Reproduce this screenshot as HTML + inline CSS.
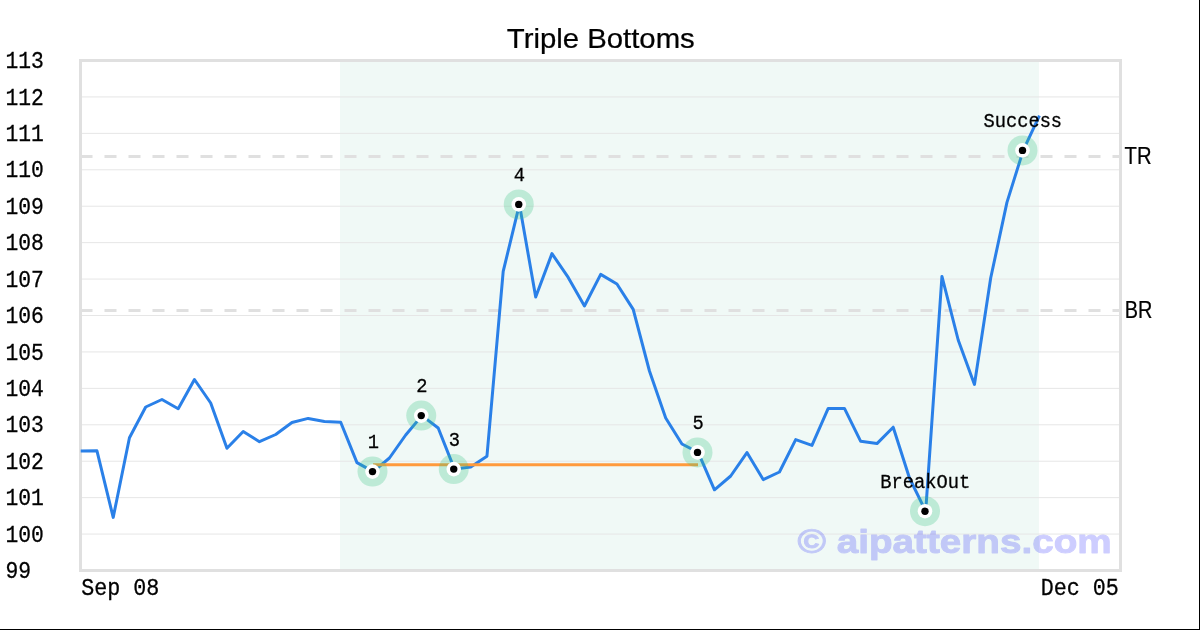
<!DOCTYPE html>
<html><head><meta charset="utf-8"><title>Triple Bottoms</title>
<style>
html,body{margin:0;padding:0;background:#fff;}
body{width:1200px;height:630px;overflow:hidden;position:relative;}
svg{position:absolute;left:0;top:0;display:block;}
text{white-space:pre;}
</style></head>
<body>
<svg width="1200" height="630" viewBox="0 0 1200 630">
<rect x="0" y="0" width="1200" height="630" fill="#ffffff"/>
<rect x="340" y="60.5" width="698.9" height="510.0" fill="#f0f9f6"/>
<g stroke="#e6e6e6" stroke-width="1" fill="none">
<line x1="80.5" y1="534.07" x2="1120.5" y2="534.07"/>
<line x1="80.5" y1="497.64" x2="1120.5" y2="497.64"/>
<line x1="80.5" y1="461.21" x2="1120.5" y2="461.21"/>
<line x1="80.5" y1="424.79" x2="1120.5" y2="424.79"/>
<line x1="80.5" y1="388.36" x2="1120.5" y2="388.36"/>
<line x1="80.5" y1="351.93" x2="1120.5" y2="351.93"/>
<line x1="80.5" y1="315.50" x2="1120.5" y2="315.50"/>
<line x1="80.5" y1="279.07" x2="1120.5" y2="279.07"/>
<line x1="80.5" y1="242.64" x2="1120.5" y2="242.64"/>
<line x1="80.5" y1="206.21" x2="1120.5" y2="206.21"/>
<line x1="80.5" y1="169.79" x2="1120.5" y2="169.79"/>
<line x1="80.5" y1="133.36" x2="1120.5" y2="133.36"/>
<line x1="80.5" y1="96.93" x2="1120.5" y2="96.93"/>
</g>
<g stroke="#e0e0e0" stroke-width="3" stroke-dasharray="12 12" fill="none">
<line x1="80.5" y1="156.5" x2="1120.5" y2="156.5"/>
<line x1="80.5" y1="310.5" x2="1120.5" y2="310.5"/>
</g>
<rect x="80.5" y="60.5" width="1040.0" height="510.0" fill="none" stroke="#e0e0e0" stroke-width="3"/>
<polyline points="80.70,451.00 96.95,450.80 113.20,517.40 129.45,437.80 145.70,407.00 161.95,399.50 178.20,408.80 194.45,379.50 210.70,403.00 226.95,448.30 243.20,431.50 259.45,441.70 275.70,434.50 291.95,422.50 308.20,418.40 324.45,421.40 340.70,422.30 356.95,462.60 373.20,471.60 389.45,458.00 405.70,435.00 421.95,415.60 438.20,428.00 454.45,469.10 470.70,467.00 486.95,456.20 503.20,271.40 519.45,204.40 535.70,297.00 551.95,253.60 568.20,277.40 584.45,306.00 600.70,274.40 616.95,284.00 633.20,309.40 649.45,371.00 665.70,418.00 681.95,444.00 698.20,452.40 714.45,489.80 730.70,476.00 746.95,452.60 763.20,479.60 779.45,472.00 795.70,439.60 811.95,445.40 828.20,408.40 844.45,408.40 860.70,441.30 876.95,443.60 893.20,427.20 909.45,478.00 925.70,511.20 941.95,276.40 958.20,340.00 974.45,384.40 990.70,278.00 1006.95,202.40 1023.20,150.40 1039.45,115.60" fill="none" stroke="#2a80e8" stroke-width="3" stroke-linejoin="round" stroke-linecap="butt"/>
<line x1="373.00" y1="464.7" x2="698.00" y2="464.7" stroke="#ff9a3c" stroke-width="3"/>
<circle cx="372.50" cy="471.60" r="15" fill="rgb(52,196,130)" fill-opacity="0.27"/>
<circle cx="372.50" cy="471.60" r="7.3" fill="#ffffff"/>
<circle cx="372.50" cy="471.60" r="3.7" fill="#000000"/>
<circle cx="421.25" cy="415.60" r="15" fill="rgb(52,196,130)" fill-opacity="0.27"/>
<circle cx="421.25" cy="415.60" r="7.3" fill="#ffffff"/>
<circle cx="421.25" cy="415.60" r="3.7" fill="#000000"/>
<circle cx="453.75" cy="469.10" r="15" fill="rgb(52,196,130)" fill-opacity="0.27"/>
<circle cx="453.75" cy="469.10" r="7.3" fill="#ffffff"/>
<circle cx="453.75" cy="469.10" r="3.7" fill="#000000"/>
<circle cx="518.75" cy="204.40" r="15" fill="rgb(52,196,130)" fill-opacity="0.27"/>
<circle cx="518.75" cy="204.40" r="7.3" fill="#ffffff"/>
<circle cx="518.75" cy="204.40" r="3.7" fill="#000000"/>
<circle cx="697.50" cy="452.40" r="15" fill="rgb(52,196,130)" fill-opacity="0.27"/>
<circle cx="697.50" cy="452.40" r="7.3" fill="#ffffff"/>
<circle cx="697.50" cy="452.40" r="3.7" fill="#000000"/>
<circle cx="925.00" cy="511.20" r="15" fill="rgb(52,196,130)" fill-opacity="0.27"/>
<circle cx="925.00" cy="511.20" r="7.3" fill="#ffffff"/>
<circle cx="925.00" cy="511.20" r="3.7" fill="#000000"/>
<circle cx="1022.50" cy="150.40" r="15" fill="rgb(52,196,130)" fill-opacity="0.27"/>
<circle cx="1022.50" cy="150.40" r="7.3" fill="#ffffff"/>
<circle cx="1022.50" cy="150.40" r="3.7" fill="#000000"/>
<g opacity="0.999">
<text id="title" transform="translate(506.80,48.25) scale(1.0670,1)" x="0" y="0" font-family="'Liberation Sans', sans-serif" font-size="27.5" font-weight="normal" fill="#000" stroke="#000" stroke-width="0.25">Triple Bottoms</text>
<text id="y99" transform="translate(5.40,578.20) scale(0.8900,1)" x="0" y="0" font-family="'Liberation Mono', monospace" font-size="24.0" font-weight="normal" fill="#000" stroke="#000" stroke-width="0.3">99</text>
<text id="y100" transform="translate(5.40,541.77) scale(0.8900,1)" x="0" y="0" font-family="'Liberation Mono', monospace" font-size="24.0" font-weight="normal" fill="#000" stroke="#000" stroke-width="0.3">100</text>
<text id="y101" transform="translate(5.40,505.34) scale(0.8900,1)" x="0" y="0" font-family="'Liberation Mono', monospace" font-size="24.0" font-weight="normal" fill="#000" stroke="#000" stroke-width="0.3">101</text>
<text id="y102" transform="translate(5.40,468.91) scale(0.8900,1)" x="0" y="0" font-family="'Liberation Mono', monospace" font-size="24.0" font-weight="normal" fill="#000" stroke="#000" stroke-width="0.3">102</text>
<text id="y103" transform="translate(5.40,432.49) scale(0.8900,1)" x="0" y="0" font-family="'Liberation Mono', monospace" font-size="24.0" font-weight="normal" fill="#000" stroke="#000" stroke-width="0.3">103</text>
<text id="y104" transform="translate(5.40,396.06) scale(0.8900,1)" x="0" y="0" font-family="'Liberation Mono', monospace" font-size="24.0" font-weight="normal" fill="#000" stroke="#000" stroke-width="0.3">104</text>
<text id="y105" transform="translate(5.40,359.63) scale(0.8900,1)" x="0" y="0" font-family="'Liberation Mono', monospace" font-size="24.0" font-weight="normal" fill="#000" stroke="#000" stroke-width="0.3">105</text>
<text id="y106" transform="translate(5.40,323.20) scale(0.8900,1)" x="0" y="0" font-family="'Liberation Mono', monospace" font-size="24.0" font-weight="normal" fill="#000" stroke="#000" stroke-width="0.3">106</text>
<text id="y107" transform="translate(5.40,286.77) scale(0.8900,1)" x="0" y="0" font-family="'Liberation Mono', monospace" font-size="24.0" font-weight="normal" fill="#000" stroke="#000" stroke-width="0.3">107</text>
<text id="y108" transform="translate(5.40,250.34) scale(0.8900,1)" x="0" y="0" font-family="'Liberation Mono', monospace" font-size="24.0" font-weight="normal" fill="#000" stroke="#000" stroke-width="0.3">108</text>
<text id="y109" transform="translate(5.40,213.91) scale(0.8900,1)" x="0" y="0" font-family="'Liberation Mono', monospace" font-size="24.0" font-weight="normal" fill="#000" stroke="#000" stroke-width="0.3">109</text>
<text id="y110" transform="translate(5.40,177.49) scale(0.8900,1)" x="0" y="0" font-family="'Liberation Mono', monospace" font-size="24.0" font-weight="normal" fill="#000" stroke="#000" stroke-width="0.3">110</text>
<text id="y111" transform="translate(5.40,141.06) scale(0.8900,1)" x="0" y="0" font-family="'Liberation Mono', monospace" font-size="24.0" font-weight="normal" fill="#000" stroke="#000" stroke-width="0.3">111</text>
<text id="y112" transform="translate(5.40,104.63) scale(0.8900,1)" x="0" y="0" font-family="'Liberation Mono', monospace" font-size="24.0" font-weight="normal" fill="#000" stroke="#000" stroke-width="0.3">112</text>
<text id="y113" transform="translate(5.40,68.20) scale(0.8900,1)" x="0" y="0" font-family="'Liberation Mono', monospace" font-size="24.0" font-weight="normal" fill="#000" stroke="#000" stroke-width="0.3">113</text>
<text id="x0" transform="translate(81.20,595.00) scale(0.9050,1)" x="0" y="0" font-family="'Liberation Mono', monospace" font-size="24.0" font-weight="normal" fill="#000" stroke="#000" stroke-width="0.3">Sep 08</text>
<text id="x1" transform="translate(1040.70,594.90) scale(0.9050,1)" x="0" y="0" font-family="'Liberation Mono', monospace" font-size="24.0" font-weight="normal" fill="#000" stroke="#000" stroke-width="0.3">Dec 05</text>
<text id="TR" transform="translate(1124.60,163.80) scale(0.8800,1)" x="0" y="0" font-family="'Liberation Sans', sans-serif" font-size="23.0" font-weight="normal" fill="#000" stroke="#000" stroke-width="0.25">TR</text>
<text id="BR" transform="translate(1124.80,317.80) scale(0.8650,1)" x="0" y="0" font-family="'Liberation Sans', sans-serif" font-size="23.0" font-weight="normal" fill="#000" stroke="#000" stroke-width="0.25">BR</text>
<text id="a18" transform="translate(367.87,448.20) scale(0.9150,1)" x="0" y="0" font-family="'Liberation Mono', monospace" font-size="20.5" font-weight="normal" fill="#000" stroke="#000" stroke-width="0.3">1</text>
<text id="a21" transform="translate(416.32,392.20) scale(0.9150,1)" x="0" y="0" font-family="'Liberation Mono', monospace" font-size="20.5" font-weight="normal" fill="#000" stroke="#000" stroke-width="0.3">2</text>
<text id="a23" transform="translate(448.82,445.70) scale(0.9150,1)" x="0" y="0" font-family="'Liberation Mono', monospace" font-size="20.5" font-weight="normal" fill="#000" stroke="#000" stroke-width="0.3">3</text>
<text id="a27" transform="translate(513.82,181.00) scale(0.9150,1)" x="0" y="0" font-family="'Liberation Mono', monospace" font-size="20.5" font-weight="normal" fill="#000" stroke="#000" stroke-width="0.3">4</text>
<text id="a38" transform="translate(692.57,429.00) scale(0.9150,1)" x="0" y="0" font-family="'Liberation Mono', monospace" font-size="20.5" font-weight="normal" fill="#000" stroke="#000" stroke-width="0.3">5</text>
<text id="a52" transform="translate(880.28,487.80) scale(0.9150,1)" x="0" y="0" font-family="'Liberation Mono', monospace" font-size="20.5" font-weight="normal" fill="#000" stroke="#000" stroke-width="0.3">BreakOut</text>
<text id="a58" transform="translate(983.41,127.00) scale(0.9150,1)" x="0" y="0" font-family="'Liberation Mono', monospace" font-size="20.5" font-weight="normal" fill="#000" stroke="#000" stroke-width="0.3">Success</text>
<text id="wm" transform="translate(797.40,552.60) scale(1.1580,1)" x="0" y="0" font-family="'Liberation Sans', sans-serif" font-size="33.4" font-weight="bold" fill="#0000ff" stroke="#0000ff" stroke-width="1.0" stroke-linejoin="round" opacity="0.2">© aipatterns.com</text>
</g>
<rect x="1199" y="0" width="1" height="630" fill="#000"/>
<rect x="0" y="629" width="1200" height="1" fill="#000"/>
</svg>
</body></html>
